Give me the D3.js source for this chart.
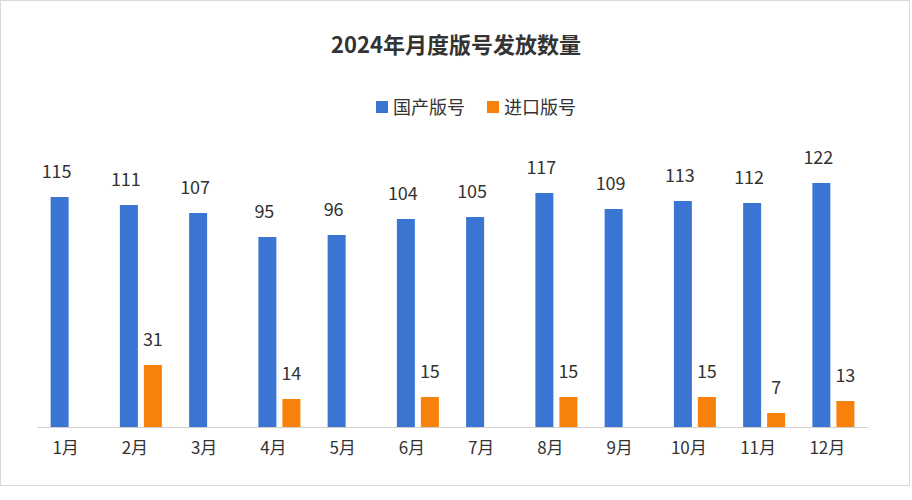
<!DOCTYPE html>
<html><head><meta charset="utf-8">
<script src="https://cdn.jsdelivr.net/npm/d3@7"></script>
<style>body{margin:0;background:#fff;font-family:"Noto Sans CJK SC","Noto Sans",sans-serif;}</style>
</head><body><div id="chart"></div>
<script>
// data
const months = ["1月","2月","3月","4月","5月","6月","7月","8月","9月","10月","11月","12月"];
const domestic = [115,111,107,95,96,104,105,117,109,113,112,122];
const imported = [null,31,null,14,null,15,null,15,null,15,7,13];
const seriesNames = ["国产版号","进口版号"];
const COLORS = ["#3a75d4","#f7810b"];

const W = 912, H = 500;
const svg = d3.select("#chart").append("svg").attr("width", W).attr("height", H);

svg.append("rect").attr("x", 0.5).attr("y", 0.5).attr("width", 909).attr("height", 485)
	.attr("fill", "#fff").attr("stroke", "#d9d9d9");

const X = d3.scaleBand().domain(months).range([37, 868]);
const Y = d3.scaleLinear().domain([0, 100]).range([427, 227]);
const BW = 18, GAP = 6;

svg.append("text").attr("x", 456).attr("y", 53).attr("text-anchor", "middle")
	.attr("font-size", 22).attr("font-weight", "bold").attr("fill", "#333").text("2024年月度版号发放数量");

// legend
const leg = svg.append("g");
[[376, 0], [487, 1]].forEach(([lx, i]) => {
	leg.append("rect").attr("x", lx).attr("y", 101).attr("width", 12).attr("height", 12).attr("fill", COLORS[i]);
	leg.append("text").attr("x", lx + 17).attr("y", 114).attr("font-size", 18).attr("fill", "#333").text(seriesNames[i]);
});

// bars
[domestic, imported].forEach((vals, s) => {
	const g = svg.append("g");
	months.forEach((m, i) => {
		const v = vals[i];
		if (v == null) return;
		const cx = X(m) + X.bandwidth() / 2;
		const x = s === 0 ? cx - GAP / 2 - BW : cx + GAP / 2;
		g.append("rect").attr("x", x).attr("y", Y(v)).attr("width", BW)
			.attr("height", Y(0) - Y(v)).attr("fill", COLORS[s]);
		g.append("text").attr("x", x + BW / 2 - (s === 0 ? 3 : 0)).attr("y", Y(v) - 19)
			.attr("text-anchor", "middle").attr("font-size", 18).attr("fill", "#333").text(v);
	});
});

// axis
const ax = svg.append("g").attr("transform", "translate(0,427)")
	.call(d3.axisBottom(X).tickSize(0).tickPadding(15));
ax.select(".domain").attr("stroke", "#d0d0d0");
ax.selectAll("text").attr("font-size", 17).attr("fill", "#333")
	.attr("font-family", "Noto Sans CJK SC").attr("dx", -6);
</script></body></html>
